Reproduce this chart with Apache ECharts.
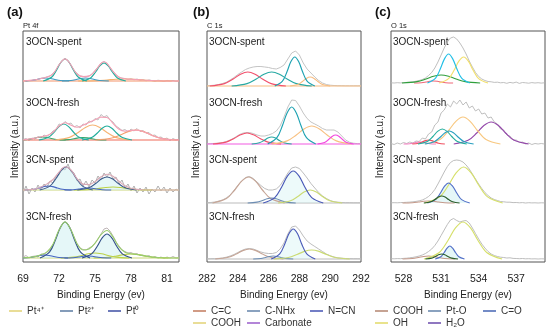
<!DOCTYPE html>
<html><head><meta charset="utf-8">
<script src="https://cdn.jsdelivr.net/npm/echarts@6/dist/echarts.min.js"></script>
<style>html,body{margin:0;padding:0;background:#fff}#c{width:550px;height:334px}</style>
</head><body><div id="c"></div>
<script>
// ---------- x grids (binding energy, eV) ----------
const aX = [69,69.25,69.5,69.75,70,70.25,70.5,70.75,71,71.25,71.5,71.75,72,72.25,72.5,72.75,73,73.25,73.5,73.75,74,74.25,74.5,74.75,75,75.25,75.5,75.75,76,76.25,76.5,76.75,77,77.25,77.5,77.75,78,78.25,78.5,78.75,79,79.25,79.5,79.75,80,80.25,80.5,80.75,81,81.25,81.5,81.75,82];
const bX = [282,282.25,282.5,282.75,283,283.25,283.5,283.75,284,284.25,284.5,284.75,285,285.25,285.5,285.75,286,286.25,286.5,286.75,287,287.25,287.5,287.75,288,288.25,288.5,288.75,289,289.25,289.5,289.75,290,290.25,290.5,290.75,291,291.25,291.5,291.75,292];
const cX = [527,527.25,527.5,527.75,528,528.25,528.5,528.75,529,529.25,529.5,529.75,530,530.25,530.5,530.75,531,531.25,531.5,531.75,532,532.25,532.5,532.75,533,533.25,533.5,533.75,534,534.25,534.5,534.75,535,535.25,535.5,535.75,536,536.25,536.5,536.75,537,537.25,537.5,537.75,538,538.25,538.5,538.75,539,539.25];

// ---------- tick labels ----------
const aTicks = [69,72,75,78,81];
const bTicks = [282,284,286,288,290,292];
const cTicks = [528,531,534,537];

const sampleLabels = ['3OCN-spent','3OCN-fresh','3CN-spent','3CN-fresh'];

// ---------- (a) Pt 4f ----------
const a_OCNs_raw = [0.5,-0.3,0.6,0.2,1.3,1.6,2.8,3.0,4.2,5.0,7.5,11,16.5,20,22.5,20.5,15.5,11,7.5,5,4.6,4.2,5.2,7,10.5,14,17.8,19.5,17.5,13.5,9.8,6,4,2.8,2.5,1.5,2.3,1.2,2.0,0.8,1.4,0.2,1.1,0.4,-0.2,0.8,0.3,-0.4,0.6,0.1,0.5,-0.3,0.2];
const a_OCNs_env = [[69,0],[70,1.1],[70.5,2.5],[71,3.9],[71.5,7.2],[72,16.1],[72.25,20.2],[72.5,22.1],[72.75,20.1],[73,15.9],[73.5,7],[74,4.4],[74.5,4.9],[75,10],[75.5,17.5],[75.75,19.2],[76,17.6],[76.5,9.6],[77,3.8],[77.5,2.2],[78,1.8],[79,1],[80,0.3],[82,0]];
const a_OCNs_pt2a = [[70.68,0],[71.38,3.7],[71.8,11],[72.15,18.5],[72.5,22],[72.85,18.5],[73.2,11],[73.62,3.7],[74.32,0]];
const a_OCNs_pt2b = [[73.93,0],[74.63,3.1],[75.05,9],[75.4,15.1],[75.75,18],[76.1,15.1],[76.45,9],[76.87,3.1],[77.57,0]];
const a_OCNs_pt0a = [[69.2,0],[69.7,0.5],[70.15,1.5],[70.5,2.5],[70.9,3],[71.3,2.5],[71.65,1.5],[72.1,0.5],[72.85,0]];
const a_OCNs_pt0b = [[72.25,0],[73.0,0.5],[73.45,1.5],[73.8,2.5],[74.2,3],[74.6,2.5],[74.95,1.5],[75.4,0.5],[76.15,0]];
const a_OCNs_pt4 = [[73.6,0],[75.1,0.3],[76,1],[76.75,1.7],[77.5,2],[78.25,1.7],[79,1],[79.9,0.3],[81.4,0]];

const a_OCNf_raw = [0.5,1.5,-0.5,2,1,3.5,2,5,3.5,6,9,10.5,16,15,18.5,16,17,13,14.5,12,16,15,19,18,21.5,20,25.5,23,24.5,20,18,14,12,9.5,10.5,8,11,9,11.5,8.5,9.5,7,7.5,4.5,5,2.5,3,1,2,-0.5,1.5,0,1];
const a_OCNf_env = [[69,0.1],[70,1.9],[70.5,3.3],[71,4.4],[71.5,7.8],[72,14],[72.5,17.3],[73,14.8],[73.5,12.7],[74,14.8],[74.5,17.5],[75,20.3],[75.5,22.9],[76,22.5],[76.5,16.7],[77,10.7],[77.5,8.8],[78,9.6],[78.5,9.9],[79,8.6],[79.5,6.1],[80,3.5],[80.5,1.6],[81,0.6],[81.5,0.2],[82,0]];
const a_OCNf_pt2a = [[70.32,0],[71.12,2.7],[71.6,8],[72.0,13.4],[72.4,16],[72.8,13.4],[73.2,8],[73.68,2.7],[74.48,0]];
const a_OCNf_pt2b = [[73.92,0],[74.72,2.4],[75.2,7],[75.6,11.8],[76.0,14],[76.4,11.8],[76.8,7],[77.28,2.4],[78.08,0]];
const a_OCNf_pt4a = [[71.68,0],[72.88,2.6],[73.6,7.5],[74.2,12.6],[74.8,15],[75.4,12.6],[76.0,7.5],[76.72,2.6],[77.92,0]];
const a_OCNf_pt4b = [[75.02,0],[76.32,1.7],[77.1,5],[77.75,8.4],[78.4,10],[79.05,8.4],[79.7,5],[80.48,1.7],[81.78,0]];
const a_OCNf_pt0a = [[69,0.1],[69.4,0.5],[69.85,1.5],[70.22,2.5],[70.6,3],[70.98,2.5],[71.35,1.5],[71.8,0.5],[72.55,0]];
const a_OCNf_pt0b = [[72.05,0],[72.8,0.4],[73.25,1.25],[73.62,2.1],[74.0,2.5],[74.38,2.1],[74.75,1.25],[75.2,0.4],[75.95,0]];

const a_CNs_raw = [-3,4,-4,2,-2,5,0,6,3,9,7,14,15,22,20,26,18,17,9,11,4,9,3,10,7,14,10,17,13,18,11,13,6,10,2,6,-1,4,-3,2,-2,3,-4,1,-2,4,-1,3,-3,2,-2,1,-1];
const a_CNs_env = [[69,0],[70,0.9],[70.5,2.9],[71,6.1],[71.5,10.5],[72,17.8],[72.5,23.2],[73,20],[73.5,11.4],[74,5.9],[74.5,5.5],[75,8.4],[75.5,13.2],[76,15.8],[76.5,13.8],[77,8.7],[77.5,4.2],[78,1.7],[78.5,0.6],[79,0.2],[82,0]];
const a_CNs_pt2a = [[70.39,0],[71.24,3.9],[71.75,11.5],[72.18,19.3],[72.6,23],[73.02,19.3],[73.45,11.5],[73.96,3.9],[74.81,0]];
const a_CNs_pt2b = [[73.53,0],[74.48,2.2],[75.05,6.5],[75.52,10.9],[76,13],[76.48,10.9],[76.95,6.5],[77.52,2.2],[78.47,0]];
const a_CNs_pt0a = [[69.15,0],[69.9,0.7],[70.35,2],[70.72,3.4],[71.1,4],[71.48,3.4],[71.85,2],[72.3,0.7],[73.05,0]];
const a_CNs_pt0b = [[72.45,0],[73.2,0.3],[73.65,1],[74.02,1.7],[74.4,2],[74.78,1.7],[75.15,1],[75.6,0.3],[76.35,0]];
const a_CNs_pt4 = [[73.25,0],[74.5,0.5],[75.25,1.5],[75.88,2.5],[76.5,3],[77.12,2.5],[77.75,1.5],[78.5,0.5],[79.75,0]];

const a_CNf_raw = [1,2.5,0,1.5,2,1,4,3.5,6,8,13,20,27,33,36,34,28,21,14.5,10,8.5,8,10,11.5,15,19,24,29,30,27,22,16,12,8,6.5,5,5.5,4,4.5,2.5,3,1.5,2.5,0.5,1.5,0,1,-0.5,1,0,1.5,0,0.5];
const a_CNf_env = [[69,0.2],[70,1.4],[70.5,3.2],[71,6.2],[71.5,13.8],[72,27.9],[72.5,36.1],[73,28.1],[73.5,14.3],[74,8],[74.5,9],[75,14.6],[75.5,23.3],[76,27.5],[76.5,21.1],[77,11.1],[77.5,5.8],[78,4.3],[78.5,3.5],[79,2.4],[79.5,1.4],[80,0.6],[80.5,0.2],[82,0]];
const a_CNf_pt2a = [[70.42,0],[71.22,6.1],[71.7,18],[72.1,30.2],[72.5,36],[72.9,30.2],[73.3,18],[73.78,6.1],[74.58,0]];
const a_CNf_pt2b = [[73.92,0],[74.72,4.1],[75.2,12],[75.6,20.2],[76,24],[76.4,20.2],[76.8,12],[77.28,4.1],[78.08,0]];
const a_CNf_pt0a = [[69,0.1],[69.6,0.5],[70.05,1.5],[70.42,2.5],[70.8,3],[71.18,2.5],[71.55,1.5],[72.0,0.5],[72.75,0]];
const a_CNf_pt0b = [[72.45,0],[73.2,0.3],[73.65,1],[74.02,1.7],[74.4,2],[74.78,1.7],[75.15,1],[75.6,0.3],[76.35,0]];
const a_CNf_pt4a = [[72.14,0],[73.24,0.85],[73.9,2.5],[74.45,4.2],[75,5],[75.55,4.2],[76.1,2.5],[76.76,0.85],[77.86,0]];
const a_CNf_pt4b = [[74.88,0],[76.08,0.7],[76.8,2],[77.4,3.4],[78,4],[78.6,3.4],[79.2,2],[79.92,0.7],[81.12,0]];

// ---------- (b) C 1s ----------
const b_OCNs_raw = [0.3,0.5,0.8,1.5,2.5,3.8,6,8.5,11.5,14,16.5,18,19,19.5,19.5,19,18.5,17.5,17,18.5,21,27,33,35,31,23,17,13,9,5.5,3,1.5,0.8,0.5,0.3,0.3,0.2,0.2,0.2,0.2,0.2];
const b_OCNs_CC = [[282.18,0],[283.13,2.4],[283.7,7],[284.18,11.8],[284.65,14],[285.12,11.8],[285.6,7],[286.17,2.4],[287.12,0]];
const b_OCNs_NHx = [[283.6,0],[284.6,2.4],[285.2,7],[285.7,11.8],[286.2,14],[286.7,11.8],[287.2,7],[287.8,2.4],[288.8,0]];
const b_OCNs_NCN = [[286.4,0],[286.9,4.9],[287.2,14.5],[287.45,24.4],[287.7,29],[287.95,24.4],[288.2,14.5],[288.5,4.9],[289.0,0]];
const b_OCNs_COOH = [[287.4,0],[287.9,1.5],[288.2,4.5],[288.45,7.6],[288.7,9],[288.95,7.6],[289.2,4.5],[289.5,1.5],[290.0,0]];

const b_OCNf_raw = [0.2,0.4,0.6,1,1.5,2.5,4,6,8.5,10.5,11.5,11.5,10.5,9,8,8,9,10.5,13,18,27,37,44,43.5,38,31,25.5,22,20,18,15.5,14,14,14,12,8,4,1.8,0.8,0.4,0.3];
const b_OCNf_CC = [[282.39,0],[283.24,1.9],[283.75,5.5],[284.18,9.2],[284.6,11],[285.02,9.2],[285.45,5.5],[285.96,1.9],[286.81,0]];
const b_OCNf_NHx = [[284.9,0],[285.4,1.2],[285.7,3.5],[285.95,5.9],[286.2,7],[286.45,5.9],[286.7,3.5],[287.0,1.2],[287.5,0]];
const b_OCNf_NCN = [[285.94,0],[286.54,6.3],[286.9,18.5],[287.2,31.1],[287.5,37],[287.8,31.1],[288.1,18.5],[288.46,6.3],[289.06,0]];
const b_OCNf_COOH = [[286.2,0],[287.2,3.1],[287.8,9],[288.3,15.1],[288.8,18],[289.3,15.1],[289.8,9],[290.4,3.1],[291.4,0]];
const b_OCNf_carb = [[289.18,0],[289.63,1.5],[289.9,4.5],[290.12,7.6],[290.35,9],[290.58,7.6],[290.8,4.5],[291.07,1.5],[291.52,0]];

const b_CNs_raw = [0.3,0.5,1,1.8,3,5,8,12.5,17.5,22,25.5,26.5,24.5,21,17.5,14.5,13,13,14,17.5,23.5,30,35,36,34.5,30,25,19.5,15,10.5,7,4.5,2.5,1.3,0.8,0.5,0.3,0.3,0.2,0.2,0.2];
const b_CNs_CC = [[282.36,0],[283.26,4.4],[283.8,13],[284.25,21.8],[284.7,26],[285.15,21.8],[285.6,13],[286.14,4.4],[287.04,0]];
const b_CNs_NHx = [[284.64,0],[285.24,0.85],[285.6,2.5],[285.9,4.2],[286.2,5],[286.5,4.2],[286.8,2.5],[287.16,0.85],[287.76,0]];
const b_CNs_NCN = [[285.65,0],[286.4,5.4],[286.85,16],[287.22,26.9],[287.6,32],[287.98,26.9],[288.35,16],[288.8,5.4],[289.55,0]];
const b_CNs_COOH = [[286.62,0],[287.42,2.2],[287.9,6.5],[288.3,10.9],[288.7,13],[289.1,10.9],[289.5,6.5],[289.98,2.2],[290.78,0]];

const b_CNf_raw = [0.2,0.3,0.4,0.6,1,1.8,3,4.5,6.5,8.5,10,10.5,10,8.5,7,6,5.5,5.5,6.5,10,16,25,32,33,29,23,18,15,12.5,10,7.5,5,3.3,2,1.2,0.8,0.5,0.4,0.3,0.3,0.2];
const b_CNf_CC = [[282.54,0],[283.39,1.7],[283.9,5],[284.32,8.4],[284.75,10],[285.18,8.4],[285.6,5],[286.11,1.7],[286.96,0]];
const b_CNf_NHx = [[285.0,0],[285.5,0.5],[285.8,1.5],[286.05,2.5],[286.3,3],[286.55,2.5],[286.8,1.5],[287.1,0.5],[287.6,0]];
const b_CNf_NCN = [[286.17,0],[286.72,5.1],[287.05,15],[287.32,25.2],[287.6,30],[287.88,25.2],[288.15,15],[288.48,5.1],[289.03,0]];
const b_CNf_COOH = [[286.33,0],[287.28,1.5],[287.85,4.5],[288.32,7.6],[288.8,9],[289.28,7.6],[289.75,4.5],[290.32,1.5],[291.27,0]];

// ---------- (c) O 1s ----------
const c_OCNs_raw = [0.2,0,0.3,0.1,0.4,0.6,0.9,1.2,1.8,2.5,3.5,5,7.5,10.5,15,21,28,35,41,45,46,44,40,35,29,22,16,10.5,6.5,4,2.5,1.5,1.2,0.6,0.8,0.2,0.5,-0.3,0.6,0,0.9,-0.4,0.5,0.2,-0.2,0.4,0,0.3,-0.1,0.2];
const c_OCNs_PtO = [[529.91,0],[530.56,4.9],[530.95,14.5],[531.28,24.4],[531.6,29],[531.92,24.4],[532.25,14.5],[532.64,4.9],[533.29,0]];
const c_OCNs_OH = [[530.85,0],[531.6,4.4],[532.05,13],[532.42,21.8],[532.8,26],[533.18,21.8],[533.55,13],[534.0,4.4],[534.75,0]];
const c_OCNs_CO = [[527.88,0],[529.08,1.4],[529.8,4],[530.4,6.7],[531,8],[531.6,6.7],[532.2,4],[532.92,1.4],[534.12,0]];
const c_OCNs_COOH = [[528.84,0],[529.44,0.3],[529.8,1],[530.1,1.7],[530.4,2],[530.7,1.7],[531.0,1],[531.36,0.3],[531.96,0]];

const c_OCNf_raw = [0.5,-0.5,1,0,1.5,0.5,2,1,3,2.5,6,5,10,12,19,22,31,34,40,37,43,40,44,39,42,36,38,33,35,30,31,26,27,22,20,15,14,9,8,4,4,1.5,2,0,1,-0.5,0.5,0,0.5,0];
const c_OCNf_OH = [[529.76,0],[530.91,4.6],[531.6,13.5],[532.18,22.7],[532.75,27],[533.32,22.7],[533.9,13.5],[534.59,4.6],[535.74,0]];
const c_OCNf_H2O = [[532.01,0],[533.16,3.7],[533.85,11],[534.42,18.5],[535,22],[535.58,18.5],[536.15,11],[536.84,3.7],[537.99,0]];
const c_OCNf_CO = [[529.15,0],[529.9,2.6],[530.35,7.5],[530.72,12.6],[531.1,15],[531.48,12.6],[531.85,7.5],[532.3,2.6],[533.05,0]];
const c_OCNf_PtO = [[529.7,0],[530.45,2.2],[530.9,6.5],[531.28,10.9],[531.65,13],[532.02,10.9],[532.4,6.5],[532.85,2.2],[533.6,0]];
const c_OCNf_COOH = [[528.7,0],[529.2,0.7],[529.5,2],[529.75,3.4],[530,4],[530.25,3.4],[530.5,2],[530.8,0.7],[531.3,0]];
const c_OCNf_low = [[528.0,0],[528.5,0.3],[528.8,1],[529.05,1.7],[529.3,2],[529.55,1.7],[529.8,1],[530.1,0.3],[530.6,0]];

const c_CNs_raw = [0.2,0.3,0.2,0.4,0.5,0.7,0.9,1.2,1.6,2.2,3,4.5,6.5,9.5,13.5,19,25,31,36.5,40.5,42.5,43,42.5,41,38,34,29,24,19,14.5,10.5,7.5,5,3.5,2.5,1.5,1.2,0.8,0.8,0.4,0.5,0.2,0.4,0,0.3,0.1,0.2,0,0.2,0.1];
const c_CNs_OH = [[529.68,0],[530.88,6.1],[531.6,18],[532.2,30.2],[532.8,36],[533.4,30.2],[534.0,18],[534.72,6.1],[535.92,0]];
const c_CNs_PtO = [[529.91,0],[530.56,3.4],[530.95,10],[531.28,16.8],[531.6,20],[531.92,16.8],[532.25,10],[532.64,3.4],[533.29,0]];
const c_CNs_CO = [[529.62,0],[530.17,1.2],[530.5,3.5],[530.78,5.9],[531.05,7],[531.32,5.9],[531.6,3.5],[531.93,1.2],[532.48,0]];
const c_CNs_COOH = [[527.92,0],[528.72,0.3],[529.2,1],[529.6,1.7],[530,2],[530.4,1.7],[530.8,1],[531.28,0.3],[532.08,0]];

const c_CNf_raw = [0.3,0.2,0.4,0.3,0.6,0.8,1.2,1.6,2.2,3,4,5.5,7.5,10,13.5,18,23.5,29,34.5,39,40.5,38.5,37,38,38.5,36,31,25.5,20,15,11,7.5,5,3.5,2.5,1.8,1.5,1,1.2,0.6,0.5,0.3,0.5,0.2,0.3,0.1,0.2,0,0.2,0.1];
const c_CNf_OH = [[529.63,0],[530.83,6.3],[531.55,18.5],[532.15,31.1],[532.75,37],[533.35,31.1],[533.95,18.5],[534.67,6.3],[535.87,0]];
const c_CNf_PtO = [[530.53,0],[530.98,2.2],[531.25,6.5],[531.48,10.9],[531.7,13],[531.92,10.9],[532.15,6.5],[532.42,2.2],[532.87,0]];
const c_CNf_CO = [[529.75,0],[530.25,0.85],[530.55,2.5],[530.8,4.2],[531.05,5],[531.3,4.2],[531.55,2.5],[531.85,0.85],[532.35,0]];
const c_CNf_COOH = [[527.92,0],[528.72,0.5],[529.2,1.5],[529.6,2.5],[530,3],[530.4,2.5],[530.8,1.5],[531.28,0.5],[532.08,0]];

// ---------- legends ----------
const legendA = [['Pt⁴⁺','#e2d274'],['Pt²⁺','#5b7ba2'],['Pt⁰','#3d4ea3']];
const legendB = [['C=C','#c27a5c'],['C-NHx','#6383aa'],['N=CN','#4453b3'],['COOH','#e2d274'],['Carbonate','#9a5ccb']];
const legendC = [['COOH ','#b3846f'],['Pt-O','#6383aa'],['C=O','#4464b3'],['OH','#e2da66'],['H₂O','#6a4aab']];

// ================= build =================
const FONT = '"Liberation Sans", Arial, Helvetica, sans-serif';
const TOP = 31, H = 231, BOT = TOP + H;
const FILL = 'rgba(205,240,242,0.75)';

const panels = [
  {title:'(a)', tx:7, sub:'Pt 4f', min:69, max:82, ticks:aTicks, xs:aX, left:23, width:156, nameGap:3, labelX:26,
   baselines:[81,140,190,258],
   spectra:[
    {raw:a_OCNs_raw, rawC:'#b8b8b8', env:a_OCNs_env, envC:'#f4a0b5', base:'#f3946a',
     comps:[[a_OCNs_pt4,'#f5b26b'],[a_OCNs_pt0a,'#3c9ac2'],[a_OCNs_pt0b,'#3c9ac2'],[a_OCNs_pt2a,'#22ad9c'],[a_OCNs_pt2b,'#22ad9c']]},
    {raw:a_OCNf_raw, rawC:'#b8b8b8', env:a_OCNf_env, envC:'#f4a0b5', base:'#f06a58',
     comps:[[a_OCNf_pt0a,'#3aa86c'],[a_OCNf_pt0b,'#3aa86c'],[a_OCNf_pt4a,'#f6b474'],[a_OCNf_pt4b,'#f6a070'],[a_OCNf_pt2a,'#22ad9c'],[a_OCNf_pt2b,'#22ad9c']]},
    {raw:a_CNs_raw, rawC:'#a8a8a8', env:a_CNs_env, envC:'#d9a9b6', base:'#c9d67a',
     comps:[[a_CNs_pt4,'#bcd248'],[a_CNs_pt0a,'#4766c4'],[a_CNs_pt0b,'#4766c4'],[a_CNs_pt2a,'#3e5c8c',FILL],[a_CNs_pt2b,'#3e5c8c',FILL]]},
    {raw:a_CNf_raw, rawC:'#b8aeb0', env:a_CNf_env, envC:'#98cc6c', base:'#c9d67a',
     comps:[[a_CNf_pt4a,'#bcd248'],[a_CNf_pt4b,'#bcd248'],[a_CNf_pt0a,'#4766c4'],[a_CNf_pt0b,'#4766c4'],[a_CNf_pt2a,'#34508a',FILL],[a_CNf_pt2b,'#34508a',FILL]]}
   ]},
  {title:'(b)', tx:193, sub:'C 1s', min:282, max:292, ticks:bTicks, xs:bX, left:207, width:154, nameGap:6, labelX:209,
   baselines:[86,144,203,259],
   spectra:[
    {raw:b_OCNs_raw, rawC:'#bdbdbd', base:'#f8bb80',
     comps:[[b_OCNs_CC,'#f2506c'],[b_OCNs_NHx,'#27a9a3'],[b_OCNs_COOH,'#f8bd80'],[b_OCNs_NCN,'#1ea2b2']]},
    {raw:b_OCNf_raw, rawC:'#bdbdbd', base:'#f25ae2',
     comps:[[b_OCNf_CC,'#f2506c'],[b_OCNf_NHx,'#27a9a3'],[b_OCNf_COOH,'#f8c080'],[b_OCNf_carb,'#f246de'],[b_OCNf_NCN,'#1ea2b2']]},
    {raw:b_CNs_raw, rawC:'#b5b5b5', base:'#bbbbbb',
     comps:[[b_CNs_CC,'#c6a596'],[b_CNs_NHx,'#6c8db3'],[b_CNs_COOH,'#cbdb72'],[b_CNs_NCN,'#4a5ab8','rgba(205,240,242,0.5)']]},
    {raw:b_CNf_raw, rawC:'#b5b5b5', base:'#bbbbbb',
     comps:[[b_CNf_CC,'#c6a596'],[b_CNf_NHx,'#6c8db3'],[b_CNf_COOH,'#cbdb72'],[b_CNf_NCN,'#4a5ab8','rgba(205,240,242,0.5)']]}
   ]},
  {title:'(c)', tx:375, sub:'O 1s', min:527, max:539.3, ticks:cTicks, xs:cX, left:391, width:154, nameGap:6, labelX:393,
   baselines:[83,144,203,259],
   spectra:[
    {raw:c_OCNs_raw, rawC:'#b8b8b8',
     comps:[[c_OCNs_COOH,'#f06878'],[c_OCNs_CO,'#2f9f3c'],[c_OCNs_OH,'#f2e06e'],[c_OCNs_PtO,'#22bfe6']]},
    {raw:c_OCNf_raw, rawC:'#b8b8b8',
     comps:[[c_OCNf_low,'#f47cc0'],[c_OCNf_COOH,'#f04f60'],[c_OCNf_H2O,'#9448aa'],[c_OCNf_OH,'#f8c880'],[c_OCNf_CO,'#22ad9c'],[c_OCNf_PtO,'#2aa0c0']]},
    {raw:c_CNs_raw, rawC:'#b5b5b5',
     comps:[[c_CNs_COOH,'#c4998a'],[c_CNs_OH,'#d6e06a'],[c_CNs_PtO,'#5270c8',FILL],[c_CNs_CO,'#2c5e2c']]},
    {raw:c_CNf_raw, rawC:'#b5b5b5',
     comps:[[c_CNf_COOH,'#c4998a'],[c_CNf_OH,'#d6e06a'],[c_CNf_PtO,'#5270c8',FILL],[c_CNf_CO,'#2c5e2c']]}
   ]}
];
const labelY = [42,103,160,217];

const grid = [], xAxis = [], yAxis = [], series = [], graphic = [];
panels.forEach((p, pi) => {
  grid.push({left:p.left, top:TOP, width:p.width, height:H, show:true, borderColor:'#555', borderWidth:1, backgroundColor:'rgba(0,0,0,0)'});
  xAxis.push({type:'value', gridIndex:pi, min:p.min, max:p.max,
    axisLine:{show:false}, axisTick:{show:false}, splitLine:{show:false},
    axisLabel:{customValues:p.ticks, color:'#222', fontSize:10.5, fontFamily:FONT, margin:12},
    name:'Binding Energy (ev)', nameLocation:'middle', nameGap:24,
    nameTextStyle:{color:'#222', fontSize:10, fontFamily:FONT}});
  yAxis.push({type:'value', gridIndex:pi, min:0, max:1, axisLine:{show:false}, axisTick:{show:false},
    axisLabel:{show:false}, splitLine:{show:false},
    name:'Intensity (a.u.)', nameLocation:'middle', nameRotate:90, nameGap:p.nameGap,
    nameTextStyle:{color:'#222', fontSize:10, fontFamily:FONT}});
  graphic.push({type:'text', x:p.tx, y:12, style:{text:p.title, fontSize:13, fontWeight:'bold', fontFamily:FONT, fill:'#111', verticalAlign:'middle'}});
  graphic.push({type:'text', x:p.left, y:25.5, style:{text:p.sub, fontSize:7.5, fontFamily:FONT, fill:'#222', verticalAlign:'middle'}});
  p.spectra.forEach((s, si) => {
    const b = p.baselines[si];
    const yi = yAxis.length;
    yAxis.push({type:'value', gridIndex:pi, show:false, min:b - BOT, max:b - TOP, splitLine:{show:false}});
    const common = {type:'line', xAxisIndex:pi, yAxisIndex:yi, symbol:'none', silent:true, animation:false};
    series.push(Object.assign({}, common, {z:2,
      data:p.xs.map((x, i) => [x, s.raw[i]]).filter(d => d[1] !== undefined),
      lineStyle:{color:s.rawC, width:0.9}}));
    if (s.base) series.push(Object.assign({}, common, {z:3, data:[[p.min,0],[p.max,0]], lineStyle:{color:s.base, width:1.1}}));
    s.comps.forEach(c => {
      const ser = Object.assign({}, common, {z:4, smooth:0.35, data:c[0], lineStyle:{color:c[1], width:1.15}});
      if (c[2]) ser.areaStyle = {color:c[2], origin:0};
      series.push(ser);
    });
    if (s.env) series.push(Object.assign({}, common, {z:5, smooth:0.35, data:s.env, lineStyle:{color:s.envC, width:1.1}}));
    graphic.push({type:'text', x:p.labelX, y:labelY[si], style:{text:sampleLabels[si], fontSize:10, fontFamily:FONT, fill:'#222', verticalAlign:'middle'}});
  });
});

// legend dummy series + column legends
const legends = [];
function addLegendCols(items, cols, lefts) {
  items.forEach(it => series.push({type:'line', name:it[0], data:[], symbol:'none', color:it[1], itemStyle:{color:it[1]}, lineStyle:{color:it[1], width:1.5}}));
  cols.forEach((col, k) => legends.push({orient:'vertical', left:lefts[k], top:306, itemWidth:13, itemHeight:12, itemGap:2, padding:0,
    selectedMode:false, icon:'path://M0,0L26,0L26,3L0,3Z', symbolKeepAspect:true,
    data:col.map(i => items[i][0]),
    formatter: n => n.trim(),
    textStyle:{color:'#333', fontSize:10, fontFamily:FONT}}));
}
addLegendCols(legendA, [[0],[1],[2]], [9, 60, 108]);
addLegendCols(legendB, [[0,3],[1,4],[2]], [193, 247, 310]);
addLegendCols(legendC, [[0,3],[1,4],[2]], [375, 428, 483]);

const chart = echarts.init(document.getElementById('c'), null, {renderer:'canvas'});
chart.setOption({animation:false, backgroundColor:'#fff', grid, xAxis, yAxis, series, legend:legends, graphic});
</script></body></html>
